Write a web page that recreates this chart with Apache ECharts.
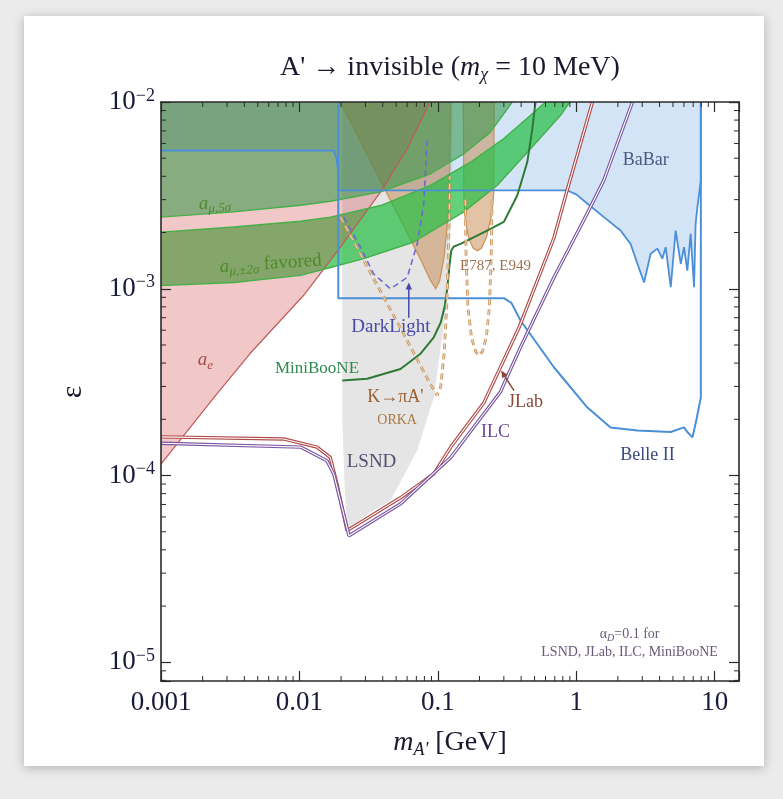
<!DOCTYPE html>
<html><head><meta charset="utf-8">
<script src="https://cdn.jsdelivr.net/npm/echarts@6/dist/echarts.min.js"></script>
<style>html,body{margin:0;padding:0;background:#ebebeb;}#c{width:783px;height:799px;}</style>
</head><body><div id="c"></div>
<script>
// ---------- axis ranges and tick labels ----------
const xMin = 0.001, xMax = 15, yMin = 7.94e-6, yMax = 1e-2;
const xTickText = {'-3':'0.001','-2':'0.01','-1':'0.1','0':'1','1':'10'};
const yTickExponents = [-2, -3, -4, -5];
const xDecades = [0.001, 0.01, 0.1, 1, 10];
const yDecades = [1e-6, 1e-5, 1e-4, 1e-3];

// ---------- data: [m_A' (GeV), epsilon] ----------
const aeBoundary = [[0.001,1.15e-4],[0.0025,2.7e-4],[0.0044,4.5e-4],[0.0107,9.2e-4],[0.0198,1.67e-3],[0.0386,3.3e-3],[0.06,5.6e-3],[0.088,1e-2]];
const amu5Sigma = [[0.001,2.42e-3],[0.00335,2.58e-3],[0.0102,2.8e-3],[0.01675,2.94e-3],[0.0386,3.30e-3],[0.0886,4.13e-3],[0.154,5.28e-3],[0.24,6.9e-3],[0.318,9.2e-3],[0.345,1e-2]];
const amuFavUpper = [[0.001,2.01e-3],[0.00335,2.14e-3],[0.0102,2.3e-3],[0.01675,2.42e-3],[0.0386,2.79e-3],[0.0886,3.58e-3],[0.172,4.76e-3],[0.30,6.37e-3],[0.468,8.49e-3],[0.6,1e-2]];
const amuFavLower = [[0.001,1.04e-3],[0.00335,1.08e-3],[0.0102,1.18e-3],[0.01675,1.3e-3],[0.0292,1.45e-3],[0.067,1.78e-3],[0.154,2.58e-3],[0.269,3.58e-3],[0.468,5.62e-3],[0.771,8.49e-3],[0.9,1e-2]];
const babarBoundary = [[0.001,5.5e-3],[0.0177,5.5e-3],[0.0185,5.0e-3],[0.0191,4.2e-3],[0.0191,3.36e-3],[0.863,3.36e-3],[1.0,3.2e-3],[1.2,2.86e-3],[1.585,2.42e-3],[2.09,2.05e-3],[2.47,1.74e-3],[2.77,1.36e-3],[3.09,1.08e-3],[3.45,1.54e-3],[3.86,1.64e-3],[4.19,1.45e-3],[4.43,1.67e-3],[4.82,1.02e-3],[5.23,2.05e-3],[5.69,1.36e-3],[6.01,1.67e-3],[6.35,1.25e-3],[6.71,1.97e-3],[7.10,1.02e-3],[7.29,2.23e-3],[7.51,2.74e-3],[7.95,3.8e-3],[7.95,1e-2]];
const belle2 = [[0.0191,1e-2],[0.0191,8.9e-4],[0.30,8.9e-4],[0.34,8.4e-4],[0.396,6.76e-4],[0.69,3.8e-4],[1.2,2.32e-4],[1.77,1.81e-4],[2.77,1.74e-4],[4.82,1.71e-4],[6.01,1.81e-4],[6.3,1.72e-4],[6.92,1.60e-4],[7.4,2.0e-4],[7.95,2.62e-4],[7.95,1e-2]];
const lsndRegion = [[0.0204,1e-2],[0.0204,2.0e-4],[0.0212,9e-5],[0.0221,5.07e-5],[0.0309,6.2e-5],[0.0455,7.35e-5],[0.071,1.36e-4],[0.0935,2.62e-4],[0.117,8.65e-4],[0.125,2.5e-3],[0.128,1e-2]];
const e787Low = [[0.0198,1e-2],[0.04,3.59e-3],[0.075,1.44e-3],[0.088,1.12e-3],[0.0964,1.0e-3],[0.103,1.1e-3],[0.111,1.48e-3],[0.117,2.2e-3],[0.12,2.86e-3],[0.122,5e-3],[0.124,1e-2]];
const e787High = [[0.153,1e-2],[0.154,3.2e-3],[0.158,2.3e-3],[0.168,1.85e-3],[0.18,1.65e-3],[0.193,1.6e-3],[0.207,1.65e-3],[0.225,1.9e-3],[0.245,2.5e-3],[0.253,3.2e-3],[0.255,1e-2]];
const orkaLow = [[0.0198,2.42e-3],[0.0316,1.27e-3],[0.05,6.8e-4],[0.0708,4.2e-4],[0.088,3.1e-4],[0.0988,2.68e-4],[0.105,3.0e-4],[0.111,4.5e-4],[0.116,8.0e-4],[0.119,1.5e-3],[0.121,2.5e-3],[0.122,4e-3]];
const orkaHigh = [[0.158,3e-3],[0.16,1.5e-3],[0.165,8e-4],[0.175,5.5e-4],[0.188,4.6e-4],[0.198,4.4e-4],[0.21,4.6e-4],[0.224,5.5e-4],[0.236,8e-4],[0.243,1.5e-3],[0.247,3e-3]];
const darkLight = [[0.0209,2.42e-3],[0.0276,1.67e-3],[0.0344,1.20e-3],[0.0455,1.0e-3],[0.0601,1.15e-3],[0.071,1.74e-3],[0.0792,2.86e-3],[0.0838,6.5e-3]];
const miniBooNE = [[0.0204,3.23e-4],[0.0309,3.30e-4],[0.0537,3.72e-4],[0.075,4.49e-4],[0.0935,5.5e-4],[0.105,6.6e-4],[0.112,8.0e-4],[0.117,1.0e-3],[0.121,1.3e-3],[0.125,1.6e-3],[0.13,1.68e-3],[0.146,1.74e-3],[0.227,2.05e-3],[0.30,2.28e-3],[0.375,3.16e-3],[0.443,4.77e-3],[0.482,7.2e-3],[0.508,1e-2]];
const jlab = [[0.001,1.61e-4],[0.0077,1.57e-4],[0.0134,1.42e-4],[0.0167,1.25e-4],[0.0187,9.0e-5],[0.0221,5.07e-5],[0.0537,7.6e-5],[0.0935,1.02e-4],[0.124,1.42e-4],[0.215,2.45e-4],[0.39,6.3e-4],[0.69,1.87e-3],[0.863,3.4e-3],[1.31,1e-2]];
const ilc = [[0.001,1.49e-4],[0.0102,1.42e-4],[0.0158,1.20e-4],[0.0177,1.02e-4],[0.0228,4.76e-5],[0.0537,7.05e-5],[0.124,1.25e-4],[0.283,2.8e-4],[0.396,4.87e-4],[0.69,1.15e-3],[1.2,2.53e-3],[1.58,3.8e-3],[2.55,1e-2]];

// annotation texts and their anchors (data coordinates)
const annotationTexts = {
  amu5: '{i|a}{s|μ,5σ}',
  amuFav: '{i|a}{s|μ,±2σ}{n| favored}',
  ae: '{i|a}{s|e}',
  mini: 'MiniBooNE', dark: 'DarkLight', kpi: 'K→πA\'', orka: 'ORKA', lsnd: 'LSND',
  e787: 'E787, E949', jlab: 'JLab', ilc: 'ILC', babar: 'BaBar', belle: 'Belle II',
  note: '{n|α}{s|D}{n|=0.1 for}\n{n|LSND, JLab, ILC, MiniBooNE}'
};
const annotationAnchors = {
  amu5:[0.00245,2.86e-3], amuFav:[0.0062,1.36e-3], ae:[0.00209,4.13e-4],
  mini:[0.0134,3.72e-4], dark:[0.0458,6.22e-4], kpi:[0.0494,2.62e-4], orka:[0.0508,1.97e-4],
  lsnd:[0.0332,1.18e-4], e787:[0.261,1.33e-3], jlab:[0.43,2.47e-4], ilc:[0.261,1.71e-4],
  babar:[3.18,4.88e-3], belle:[3.27,1.28e-4], note:[2.43,1.26e-5]
};
const darkLightArrow = [[0.0617,7.0e-4],[0.0617,1.08e-3]];
const jlabArrow = [[0.355,2.85e-4],[0.287,3.65e-4]];

// ---------- styling ----------
const serif = "'Liberation Serif','DejaVu Serif',serif";
const labelStyle = {
  amu5:{color:'#4f8a2a',size:19,rot:0.04}, amuFav:{color:'#4f8a2a',size:19,rot:0.066}, ae:{color:'#a84848',size:19,rot:0},
  mini:{color:'#2e8a50',size:17}, dark:{color:'#4848a8',size:19}, kpi:{color:'#9a6030',size:18}, orka:{color:'#a87840',size:14},
  lsnd:{color:'#505070',size:19}, e787:{color:'#a07050',size:15}, jlab:{color:'#8a4838',size:18}, ilc:{color:'#6a4898',size:18},
  babar:{color:'#4a5a80',size:18}, belle:{color:'#3a4a80',size:18}, note:{color:'#6a5a7a',size:14}
};

function polySeries(pts, fill, stroke, lw, z) {
  return {type:'custom', coordinateSystem:'cartesian2d', clip:true, z:z, silent:true, data:[[0.01,1e-3]],
    renderItem:(p, api) => ({type:'polygon', shape:{points:pts.map(q => api.coord(q))},
      style:{fill:fill, stroke:stroke||null, lineWidth:lw||0}})};
}
function lineSeries(pts, color, width, dash, z) {
  return {type:'line', data:pts, showSymbol:false, symbol:'none', clip:true, z:z, silent:true,
    lineStyle:{color:color, width:width, type: dash ? dash : 'solid'}};
}
function arrowSeries(seg, color) {
  return {type:'custom', coordinateSystem:'cartesian2d', clip:false, z:9, silent:true, data:[[0.01,1e-3]],
    renderItem:(p, api) => {
      const a = api.coord(seg[0]), b = api.coord(seg[1]);
      const ang = Math.atan2(b[1]-a[1], b[0]-a[0]), L = 7, W = 3.2;
      const c = Math.cos(ang), s = Math.sin(ang);
      const h1 = [b[0]-L*c+W*s, b[1]-L*s-W*c], h2 = [b[0]-L*c-W*s, b[1]-L*s+W*c];
      return {type:'group', children:[
        {type:'line', shape:{x1:a[0],y1:a[1],x2:b[0]-L*0.6*c,y2:b[1]-L*0.6*s}, style:{stroke:color,lineWidth:1.5}},
        {type:'polygon', shape:{points:[b,h1,h2]}, style:{fill:color}}]};
    }};
}
const labelSeries = {type:'custom', coordinateSystem:'cartesian2d', clip:false, z:9, silent:true, data:[[0.01,1e-3]],
  renderItem:(p, api) => {
    const children = Object.keys(annotationTexts).map(k => {
      const pt = api.coord(annotationAnchors[k]); const st = labelStyle[k];
      const sub = Math.round(st.size*0.7);
      return {type:'text', x:pt[0], y:pt[1], rotation:st.rot||0,
        style:{text:annotationTexts[k], fill:st.color, font: st.size+'px '+serif,
          align:'center', verticalAlign:'middle', textAlign:'center', textVerticalAlign:'middle',
          rich:{
            n:{fontSize:st.size, fontFamily:serif, fill:st.color, color:st.color, lineHeight:st.size+4},
            i:{fontSize:st.size, fontFamily:serif, fontStyle:'italic', fill:st.color, color:st.color, lineHeight:st.size+4},
            s:{fontSize:sub, fontFamily:serif, fontStyle:'italic', fill:st.color, color:st.color, verticalAlign:'bottom', lineHeight:sub-4}
          }}};
    });
    return {type:'group', children:children};
  }};

// minor ticks
const xMinor = [], yMinor = [];
xDecades.forEach(d => { for (let k = 2; k <= 9; k++) { const v = d*k; if (v < xMax) xMinor.push(v); } });
yDecades.forEach(d => { for (let k = 2; k <= 9; k++) { const v = d*k; if (v > yMin && v < yMax) yMinor.push(v); } });
const tickColor = '#2a2a2a';
const minorTickSeries = {type:'custom', coordinateSystem:'cartesian2d', clip:false, z:10, silent:true, data:[[0.01,1e-3]],
  renderItem:(p, api) => {
    const ch = [], len = 5, st = {stroke:tickColor, lineWidth:1};
    xMinor.forEach(v => {
      const b = api.coord([v, yMin]), t = api.coord([v, yMax]);
      ch.push({type:'line', shape:{x1:b[0],y1:b[1],x2:b[0],y2:b[1]-len}, style:st});
      ch.push({type:'line', shape:{x1:t[0],y1:t[1],x2:t[0],y2:t[1]+len}, style:st});
    });
    yMinor.forEach(v => {
      const l = api.coord([xMin, v]), r = api.coord([xMax, v]);
      ch.push({type:'line', shape:{x1:l[0],y1:l[1],x2:l[0]+len,y2:l[1]}, style:st});
      ch.push({type:'line', shape:{x1:r[0],y1:r[1],x2:r[0]-len,y2:r[1]}, style:st});
    });
    return {type:'group', children:ch};
  }};

const axisLineStyle = {show:true, lineStyle:{color:'#2a2a2a', width:1.6}};
const majorTick = {show:true, inside:true, length:10, lineStyle:{color:tickColor, width:1.2}};
const labelColor = '#1a1a3a';
const orkaDash = [6,4];

const option = {
  backgroundColor:'#ebebeb',
  animation:false,
  graphic:[
    {type:'rect', z:-5, shape:{x:24,y:16,width:740,height:750}, style:{fill:'#ffffff', shadowBlur:10, shadowColor:'rgba(0,0,0,0.25)', shadowOffsetY:2}},
    {type:'text', x:450, y:68, style:{text:'{n|A\' → invisible (}{i|m}{s|χ}{n| = 10 MeV)}', align:'center', verticalAlign:'middle', textAlign:'center', textVerticalAlign:'middle',
      rich:{n:{fontSize:28,fontFamily:serif,fill:'#1a1a2e',color:'#1a1a2e',lineHeight:32},
            i:{fontSize:28,fontFamily:serif,fontStyle:'italic',fill:'#1a1a2e',color:'#1a1a2e',lineHeight:32},
            s:{fontSize:18,fontFamily:serif,fontStyle:'italic',fill:'#1a1a2e',color:'#1a1a2e',verticalAlign:'bottom',lineHeight:10}}}},
    {type:'text', x:450, y:743, style:{text:'{i|m}{s|A\'}{n| [GeV]}', align:'center', verticalAlign:'middle', textAlign:'center', textVerticalAlign:'middle',
      rich:{n:{fontSize:28,fontFamily:serif,fill:'#1a1a2e',color:'#1a1a2e',lineHeight:32},
            i:{fontSize:28,fontFamily:serif,fontStyle:'italic',fill:'#1a1a2e',color:'#1a1a2e',lineHeight:32},
            s:{fontSize:18,fontFamily:serif,fontStyle:'italic',fill:'#1a1a2e',color:'#1a1a2e',verticalAlign:'bottom',lineHeight:12}}}},
    {type:'text', x:73, y:392, rotation:Math.PI/2, style:{text:'ε', font:'30px '+serif, fill:'#1a1a2e', align:'center', verticalAlign:'middle', textAlign:'center', textVerticalAlign:'middle'}}
  ],
  grid:{left:161, top:102, width:578, height:579, containLabel:false},
  xAxis:[
    {type:'log', logBase:10, min:xMin, max:xMax, position:'bottom', z:11,
      axisLine:axisLineStyle, axisTick:majorTick, splitLine:{show:false},
      axisLabel:{margin:8, color:labelColor, fontFamily:serif, fontSize:27,
        formatter:v => { const e = Math.round(Math.log10(v)); return Math.abs(Math.log10(v)-e) < 1e-6 && xTickText[String(e)] ? xTickText[String(e)] : ''; }}},
    {type:'log', logBase:10, min:xMin, max:xMax, position:'top', z:11,
      axisLine:axisLineStyle, axisTick:majorTick, splitLine:{show:false}, axisLabel:{show:false}}
  ],
  yAxis:[
    {type:'log', logBase:10, min:yMin, max:yMax, position:'left', z:11,
      axisLine:axisLineStyle, axisTick:majorTick, splitLine:{show:false},
      axisLabel:{margin:6, color:labelColor,
        formatter:v => { const e = Math.round(Math.log10(v)); return (Math.abs(Math.log10(v)-e) < 1e-6 && yTickExponents.indexOf(e) >= 0) ? '{b|10}{s|−' + (-e) + '}' : ''; },
        rich:{b:{fontSize:27, fontFamily:serif, color:labelColor, lineHeight:30},
              s:{fontSize:18, fontFamily:serif, color:labelColor, verticalAlign:'top', lineHeight:18}}}},
    {type:'log', logBase:10, min:yMin, max:yMax, position:'right', z:11,
      axisLine:axisLineStyle, axisTick:majorTick, splitLine:{show:false}, axisLabel:{show:false}}
  ],
  series:[
    polySeries(lsndRegion, '#e5e5e5', null, 0, 1),
    polySeries(babarBoundary.concat([[0.001,1e-2]]), 'rgba(110,165,230,0.30)', null, 0, 2),
    polySeries(e787Low, 'rgba(200,135,75,0.5)', '#c8955f', 1.3, 3),
    polySeries(e787High, 'rgba(200,135,75,0.5)', '#c8955f', 1.3, 3),
    polySeries(amuFavUpper.concat(amuFavLower.slice().reverse()), 'rgba(40,190,70,0.72)', null, 0, 4),
    polySeries(aeBoundary.concat([[0.001,1e-2]]), 'rgba(210,70,70,0.30)', null, 0, 5),
    polySeries(amu5Sigma.concat([[0.001,1e-2]]), 'rgba(47,150,70,0.55)', null, 0, 6),
    lineSeries(aeBoundary, '#c05a5a', 1.2, null, 7),
    lineSeries(amuFavUpper, '#45b04a', 1.4, null, 7),
    lineSeries(amuFavLower, '#45b04a', 1.4, null, 7),
    lineSeries(amu5Sigma, '#45b04a', 1.4, null, 7),
    lineSeries(babarBoundary, '#4a8fd8', 1.8, null, 7),
    lineSeries(belle2, '#4a8fd8', 2, null, 7),
    lineSeries(miniBooNE, '#2d7a35', 2, null, 7),
    lineSeries(orkaLow, '#c8955a', 2.8, orkaDash, 7),
    lineSeries(orkaLow, 'rgba(255,255,255,0.75)', 0.9, orkaDash, 7),
    lineSeries(orkaHigh, '#c8955a', 2.8, orkaDash, 7),
    lineSeries(orkaHigh, 'rgba(255,255,255,0.75)', 0.9, orkaDash, 7),
    lineSeries(darkLight, '#6a6ad0', 1.6, [6,4], 7),
    lineSeries(jlab, '#b04848', 3.4, null, 8),
    lineSeries(jlab, '#ffffff', 1.1, null, 8),
    lineSeries(ilc, '#7a55a0', 3.4, null, 8),
    lineSeries(ilc, '#ffffff', 1.1, null, 8),
    arrowSeries(darkLightArrow, '#4848a8'),
    arrowSeries(jlabArrow, '#8a4838'),
    labelSeries,
    minorTickSeries
  ]
};
const chart = echarts.init(document.getElementById('c'));
chart.setOption(option);
</script></body></html>
